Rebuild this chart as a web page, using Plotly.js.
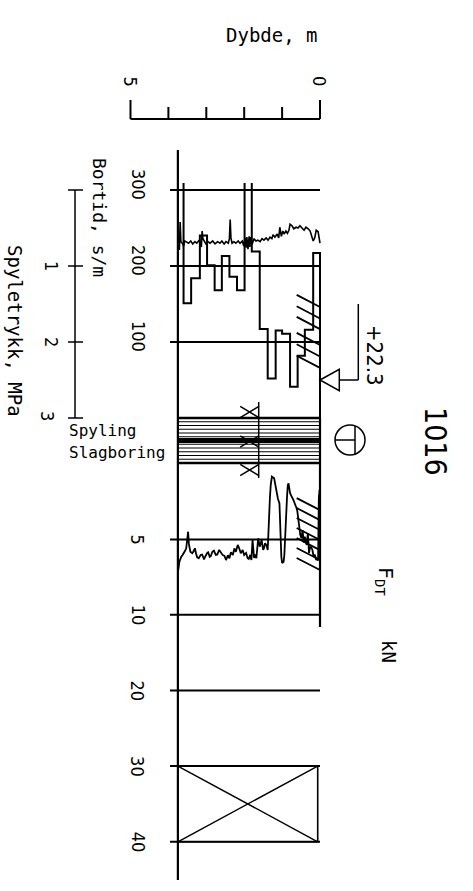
<!DOCTYPE html>
<html><head><meta charset="utf-8">
<script src="https://cdn.plot.ly/plotly-3.0.1.min.js"></script>
<style>html,body{margin:0;padding:0;background:#fff;overflow:hidden}#chart{width:473px;height:891px}</style>
</head><body><div id="chart"></div>
<script>
// ================= DATA =================
// Bortid (s/m) – step values per depth interval (value holds from depth[i] to depth[i+1])
const bortidDepth = [0, 0, 0.18, 0.40, 0.59, 0.79, 1.00, 1.17, 1.38, 1.59, 1.80, 1.99, 2.19, 2.39, 2.59, 2.78, 2.98, 3.17, 3.40, 3.60, 3.75];
const bortidValue = [0, 217, 116, 82, 41, 111, 115, 52, 117, 219, 400, 168, 186, 213, 168, 201, 240, 184, 151, 400, 400];

// Spyletrykk (MPa)
const spyDepth = [0.00,0.03,0.05,0.10,0.14,0.18,0.21,0.26,0.31,0.37,0.42,0.47,0.53,0.58,0.63,0.69,0.74,0.79,0.82,0.86,0.90,0.95,0.98,1.02,1.06,1.09,1.13,1.19,1.24,1.27,1.32,1.37,1.42,1.48,1.53,1.58,1.64,1.69,1.74,1.79,1.83,1.85,1.87,1.90,1.93,1.95,1.98,2.01,2.05,2.11,2.16,2.22,2.27,2.32,2.35,2.37,2.39,2.42,2.48,2.53,2.59,2.64,2.70,2.77,2.83,2.90,2.96,3.01,3.06,3.09,3.11,3.13,3.16,3.19,3.25,3.30,3.36,3.41,3.47,3.52,3.57,3.60,3.62,3.67,3.69,3.71,3.73,3.75];
const spyValue = [0.70,0.61,0.55,0.53,0.63,0.67,0.61,0.54,0.51,0.49,0.53,0.50,0.47,0.50,0.49,0.51,0.47,0.45,0.53,0.57,0.54,0.58,0.54,0.61,0.49,0.63,0.58,0.62,0.59,0.64,0.62,0.66,0.63,0.66,0.64,0.68,0.66,0.67,0.64,0.71,0.62,0.75,0.61,0.78,0.62,0.76,0.63,0.74,0.67,0.70,0.67,0.70,0.68,0.70,0.63,0.39,0.64,0.70,0.68,0.71,0.67,0.70,0.68,0.71,0.67,0.70,0.68,0.71,0.66,0.64,0.54,0.75,0.70,0.66,0.70,0.68,0.71,0.67,0.70,0.68,0.67,0.74,0.71,0.68,0.42,0.79,0.63,0.70];

// F_DT (kN)
const fdtDepth = [0.01,0.03,0.04,0.05,0.08,0.10,0.14,0.17,0.20,0.22,0.26,0.29,0.32,0.35,0.38,0.40,0.43,0.46,0.49,0.52,0.55,0.57,0.60,0.62,0.66,0.70,0.74,0.79,0.83,0.85,0.87,0.89,0.91,0.94,0.96,1.00,1.02,1.05,1.07,1.11,1.14,1.18,1.21,1.27,1.30,1.32,1.34,1.36,1.38,1.41,1.45,1.48,1.50,1.54,1.56,1.59,1.63,1.66,1.68,1.71,1.74,1.76,1.78,1.81,1.84,1.88,1.91,1.95,2.00,2.04,2.09,2.13,2.17,2.22,2.26,2.30,2.35,2.39,2.43,2.48,2.52,2.57,2.62,2.66,2.71,2.75,2.80,2.84,2.88,2.91,2.95,2.97,3.02,3.06,3.11,3.15,3.20,3.24,3.27,3.30,3.34,3.37,3.42,3.46,3.48,3.51,3.53,3.56,3.59,3.63,3.66,3.69,3.71,3.74];
const fdtValue = [1.70,2.20,4.20,6.40,6.30,6.37,6.00,6.15,5.70,5.57,5.48,5.90,4.58,5.37,5.10,4.82,5.20,4.38,4.90,4.71,4.10,3.49,3.10,2.92,2.61,2.40,2.19,1.94,1.28,1.40,2.17,3.40,4.82,6.00,6.48,6.56,6.15,4.20,2.61,2.30,1.94,1.30,0.95,0.84,1.40,2.17,3.60,4.82,5.70,5.40,5.26,5.60,5.70,5.04,5.30,5.48,4.93,5.80,6.25,6.00,6.23,5.60,5.04,6.37,6.03,6.30,6.25,5.90,6.03,5.70,5.92,5.60,5.37,5.82,5.60,6.03,5.85,6.25,6.05,6.37,6.10,6.03,5.80,5.70,6.00,6.03,5.75,5.82,6.10,6.15,5.85,5.88,6.10,6.32,6.00,6.03,6.25,6.19,5.95,5.59,5.80,5.92,5.82,5.30,4.49,5.20,5.59,5.75,5.92,6.05,6.15,6.30,6.48,7.03];

// Axis ticks and labels
const bortidTicks = [100, 200, 300];
const bortidTickLabels = ['100', '200', '300'];
const spyTicks = [0, 1, 2, 3];
const spyTickLabels = ['', '1', '2', '3'];
const fdtTicksLow = [5, 10];
const fdtTickLabelsLow = ['5', '10'];
const fdtTicksHigh = [20, 30, 40];
const fdtTickLabelsHigh = ['20', '30', '40'];
const depthScaleTicks = [0, 1, 2, 3, 4, 5];
const depthScaleLabels = ['0', '', '', '', '', '5'];
const methodLabels = ['Spyling', 'Slagboring'];
const boreholeId = '1016';
const terrainLevel = '+22.3';
const soundingEnd = 3.75;            // m
const hatchInterval = [0, 0.615];    // m, depth interval with hatching
const hatchBortid = [162, 147, 133, 112, 97, 82];
const hatchFdt = [2.26, 2.92, 3.58, 4.24, 4.91, 5.57, 6.23];
const crossMarkDepth = 1.86;
const crossBox = [30, 40];           // kN

// ================= GEOMETRY HELPERS =================
const W = 473, H = 891;
const X0 = 320, PXM = 37.9;                 // depth 0 pixel, pixels per metre
const dAt = px => (X0 - px) / PXM;          // pixel -> depth
const py = p => 1 - p / H;                  // pixel -> paper y
function yax(pTop, pBot, f) {
  return {domain: [1 - pBot / H, 1 - pTop / H], range: [f(pBot), f(pTop)], visible: false, fixedrange: true, anchor: 'x'};
}
const bortidAt = p => (418 - p) / 0.76;
const spyAt = p => (p - 190) / 76;
const fLowAt = p => (p - 464) / 15.08;
const fHighAt = p => 10 + (p - 614.7) / 7.57;
const bandAt = p => (p - 418) / 22.5;

const NUM = 'Liberation Sans Narrow, DejaVu Sans Condensed, Arial Narrow, sans-serif';
const TXT = 'DejaVu Sans Mono, monospace';
const K = '#000';

const tickOut = dAt(170);   // gridline left extent
const shapes = [];
const L = (xref, yref, x0, y0, x1, y1, w) => shapes.push({type: 'line', xref, yref, x0, y0, x1, y1, line: {color: K, width: w || 2}});

// frame
L('x', 'paper', soundingEnd, py(150), soundingEnd, py(880), 2.2);
L('x', 'paper', 0, py(418), 0, py(627), 2.2);
// gridlines
bortidTicks.forEach(v => L('x', 'y', tickOut, v, 0, v, 2));
fdtTicksLow.forEach(v => L('x', 'y3', tickOut, v, 0, v, 2));
fdtTicksHigh.forEach(v => L('x', 'y4', tickOut, v, 0, v, 2));
// cross box
shapes.push({type: 'rect', xref: 'x', yref: 'y4', x0: dAt(317.7), x1: soundingEnd, y0: crossBox[0], y1: crossBox[1], line: {color: K, width: 1.6}});
L('x', 'y4', soundingEnd, crossBox[0], dAt(317.7), crossBox[1], 1.4);
L('x', 'y4', soundingEnd, crossBox[1], dAt(317.7), crossBox[0], 1.4);
// Spyling / Slagboring band
for (let k = 0; k <= 12; k++) {
  const s = k / 6;
  const w = (k === 0 || k === 12) ? 2.6 : (k === 6 ? 5 : 1.2);
  L('x', 'y5', 0, s, soundingEnd, s, w);
}
// cross marks
L('x', 'y5', dAt(258.7), bandAt(402), dAt(258.7), bandAt(478), 1.5);
[bandAt(412), bandAt(441.5), bandAt(470)].forEach(s => {
  const dx = 0.245, ds = 0.25;
  L('x', 'y5', crossMarkDepth - dx, s - ds, crossMarkDepth + dx, s + ds, 1.5);
  L('x', 'y5', crossMarkDepth - dx, s + ds, crossMarkDepth + dx, s - ds, 1.5);
});
// hatching
hatchBortid.forEach(v => L('x', 'y', hatchInterval[1], v, hatchInterval[0], v - 16, 1.8));
hatchFdt.forEach(v => L('x', 'y3', hatchInterval[1], v, hatchInterval[0], v + 0.8, 1.8));
// terrain marker
const tApex = bortidAt(380), tB = dAt(339.3);
shapes.push({type: 'path', xref: 'x', yref: 'y', path: `M 0 ${tApex} L ${tB} ${bortidAt(369.3)} L ${tB} ${bortidAt(390.7)} Z`, line: {color: K, width: 1.5}});
L('x', 'y', tB, tApex, dAt(358.3), tApex, 1.5);
L('x', 'y', dAt(358.3), tApex, dAt(358.3), bortidAt(304), 1.5);
// sounding method symbol
const cS = bandAt(440), r = 15;
shapes.push({type: 'circle', xref: 'x', yref: 'y5', x0: dAt(350 - r), x1: dAt(350 + r), y0: bandAt(440 - r), y1: bandAt(440 + r), line: {color: K, width: 1.5}});
L('x', 'y5', dAt(335), cS, dAt(355), cS, 1.5);
L('x', 'y5', dAt(355), bandAt(426), dAt(355), bandAt(454), 1.5);
// depth scale
L('x', 'paper', depthScaleTicks[0], py(119), depthScaleTicks[depthScaleTicks.length - 1], py(119), 2);
depthScaleTicks.forEach((d, i) => {
  const end = (i === 0 || i === depthScaleTicks.length - 1) ? 100 : 107;
  L('x', 'paper', d, py(119), d, py(end), 2);
});
// spyletrykk axis
L('x', 'y2', dAt(75), spyTicks[0], dAt(75), spyTicks[spyTicks.length - 1], 1.5);
spyTicks.forEach(v => L('x', 'y2', dAt(68), v, dAt(83), v, 1.5));

// ================= ANNOTATIONS =================
const ann = [];
const A = (o) => ann.push(Object.assign({showarrow: false, xanchor: 'center', yanchor: 'middle', font: {family: NUM, size: 18, color: K}}, o));
bortidTicks.forEach((v, i) => A({xref: 'x', yref: 'y', x: dAt(139), y: v, yshift: 6, text: bortidTickLabels[i], textangle: 90}));
spyTicks.forEach((v, i) => { if (spyTickLabels[i]) A({xref: 'x', yref: 'y2', x: dAt(i === 3 ? 48 : 52), y: i === 3 ? spyAt(416) : v, text: spyTickLabels[i], textangle: 90}); });
fdtTicksLow.forEach((v, i) => A({xref: 'x', yref: 'y3', x: dAt(138), y: v, text: fdtTickLabelsLow[i], textangle: 90}));
fdtTicksHigh.forEach((v, i) => A({xref: 'x', yref: 'y4', x: dAt(138), y: v, text: fdtTickLabelsHigh[i], textangle: 90}));
depthScaleTicks.forEach((d, i) => { if (depthScaleLabels[i]) A({xref: 'x', yref: 'paper', x: d, y: py(81), text: depthScaleLabels[i], textangle: 90}); });
A({xref: 'x', yref: 'paper', x: dAt(271.5), y: py(35.5), text: 'Dybde, m', font: {family: TXT, size: 19, color: K}});
A({xref: 'x', yref: 'y', x: dAt(100), y: bortidAt(217), text: 'Bortid, s/m', textangle: 90, font: {family: TXT, size: 18, color: K}});
A({xref: 'x', yref: 'y2', x: dAt(15), y: spyAt(331), text: 'Spyletrykk, MPa', textangle: 90, font: {family: TXT, size: 19, color: K}});
A({xref: 'x', yref: 'y5', x: dAt(67), y: bandAt(431), xanchor: 'left', text: methodLabels[0], font: {family: TXT, size: 16, color: K}});
A({xref: 'x', yref: 'y5', x: dAt(67), y: bandAt(452.5), xanchor: 'left', text: methodLabels[1], font: {family: TXT, size: 16, color: K}});
A({xref: 'x', yref: 'paper', x: dAt(375), y: py(355), text: terrainLevel, textangle: 90, font: {family: NUM, size: 22, color: K}});
A({xref: 'x', yref: 'paper', x: dAt(436), y: py(441), text: boreholeId, textangle: 90, font: {family: NUM, size: 30, color: K}});
A({xref: 'x', yref: 'paper', x: dAt(385), y: py(581), text: 'F<sub>DT</sub>', textangle: 90, font: {family: TXT, size: 20, color: K}});
A({xref: 'x', yref: 'paper', x: dAt(389), y: py(651), text: 'kN', textangle: 90, font: {family: TXT, size: 19, color: K}});

// ================= TRACES =================
const traces = [
  {x: bortidDepth, y: bortidValue, xaxis: 'x', yaxis: 'y', mode: 'lines', line: {shape: 'hv', color: K, width: 2}, hoverinfo: 'skip'},
  {x: spyDepth, y: spyValue, xaxis: 'x', yaxis: 'y2', mode: 'lines', line: {color: K, width: 1.6}, hoverinfo: 'skip'},
  {x: fdtDepth, y: fdtValue, xaxis: 'x', yaxis: 'y3', mode: 'lines', line: {color: K, width: 1.8}, hoverinfo: 'skip'}
];

const layout = {
  width: W, height: H, margin: {l: 0, r: 0, t: 0, b: 0},
  paper_bgcolor: '#fff', plot_bgcolor: 'rgba(0,0,0,0)', showlegend: false,
  xaxis: {domain: [0, 1], range: [dAt(0), dAt(W)], visible: false, fixedrange: true, anchor: 'y'},
  yaxis: yax(183, 420, bortidAt),
  yaxis2: yax(185, 425, spyAt),
  yaxis3: yax(455, 630, fLowAt),
  yaxis4: yax(610, 850, fHighAt),
  yaxis5: yax(398, 482, bandAt),
  shapes, annotations: ann
};
Plotly.newPlot('chart', traces, layout, {displayModeBar: false, staticPlot: true});
</script></body></html>
